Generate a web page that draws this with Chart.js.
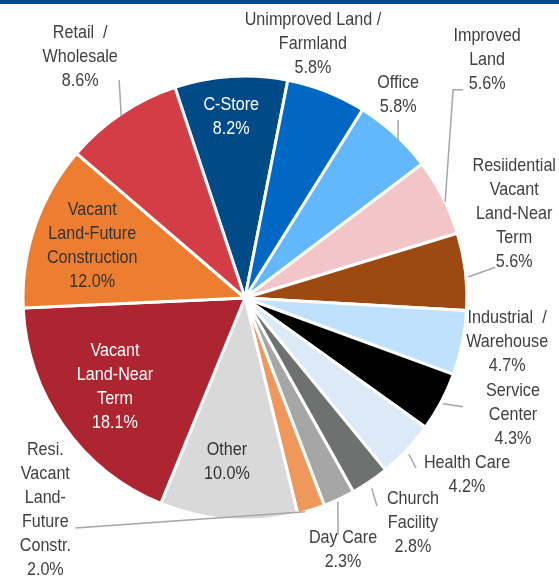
<!DOCTYPE html>
<html>
<head>
<meta charset="utf-8">
<script src="https://cdn.jsdelivr.net/npm/chart.js@4/dist/chart.umd.min.js"></script>
<style>
  html, body { margin: 0; padding: 0; background: #fff; }
  #wrap { position: relative; width: 559px; height: 577px; }
</style>
</head>
<body>
<div id="wrap"><canvas id="myChart"></canvas></div>
<script>
// data, clockwise from the C-Store slice
const categories = [
  'C-Store', 'Unimproved Land / Farmland', 'Office', 'Improved Land',
  'Resiidential Vacant Land-Near Term', 'Industrial / Warehouse', 'Service Center',
  'Health Care', 'Church Facility', 'Day Care', 'Resi. Vacant Land-Future Constr.',
  'Other', 'Vacant Land-Near Term', 'Vacant Land-Future Construction', 'Retail / Wholesale'
];
const shares = [8.2, 5.8, 5.8, 5.6, 5.6, 4.7, 4.3, 4.2, 2.8, 2.3, 2.0, 10.0, 18.1, 12.0, 8.6];
const labelLines = [
  ['C-Store'], ['Unimproved Land /', 'Farmland'], ['Office'], ['Improved', 'Land'],
  ['Resiidential', 'Vacant', 'Land-Near', 'Term'], ['Industrial  /', 'Warehouse'], ['Service', 'Center'],
  ['Health Care'], ['Church', 'Facility'], ['Day Care'], ['Resi.', 'Vacant', 'Land-', 'Future', 'Constr.'],
  ['Other'], ['Vacant', 'Land-Near', 'Term'], ['Vacant', 'Land-Future', 'Construction'], ['Retail  /', 'Wholesale']
];
const sliceColors = [
  '#004a87', '#0068c4', '#63b8fb', '#f2c5c9', '#9c4a11', '#bfe1fc', '#000000',
  '#dce9f6', '#6f7170', '#a6a6a6', '#f0985b', '#d9d9d9', '#ac2530', '#ec7d31', '#d33d46'
];
const labelColors = [
  '#ffffff', '#404040', '#404040', '#404040', '#404040', '#404040', '#404040',
  '#404040', '#404040', '#404040', '#404040', '#333333', '#ffffff', '#333333', '#404040'
];

// label placement: [radius factor, angle shift in degrees] from slice middle
const labelPlace = [
  [0.82, -0.7], [1.185, -6.6], [1.145, -5.4], [1.53, -17.5], [1.27, -10.4],
  [1.197, -2.2], [1.317, -4.3], [1.279, -4.6], [1.265, -2.5], [1.218, 3.8],
  [1.312, 60.6], [0.743, 2.0], [0.71, 0.7], [0.728, 0], [1.315, -0.5]
];
// leader lines: points relative to the label centre, then the slice edge
const leaders = [
  null, null,
  { pts: [[0, 25]], dAng: 1.7, rf: 0.99 },
  { pts: [[-24, 30], [-34, 30]], dAng: 1.4, rf: 1.0 },
  { pts: [[-19, 53]], dAng: 1.5, rf: 1.01 },
  null,
  { pts: [[-50, -8]], dAng: 0.3, rf: 1.01 },
  { pts: [[-51, -7]], dAng: 0.5, rf: 1.02 },
  { pts: [[-36, -17]], dAng: 0.6, rf: 1.03 },
  { pts: [[-5, -15]], dAng: 0.6, rf: 1.01 },
  { pts: [[30, 18]], dAng: 1.6, rf: 1.0 },
  null, null, null,
  { pts: [[39, 23]], dAng: -0.4, rf: 0.99 }
];

const FONT = '19px "Liberation Sans", Arial, sans-serif';
const SQUEEZE = 0.85; // narrow face look
const LINE_H = 24;

const topBar = {
  id: 'topBar',
  beforeDraw(chart) {
    const ctx = chart.ctx;
    ctx.save();
    ctx.fillStyle = '#004a87';
    ctx.fillRect(0, 0, chart.width, 4);
    ctx.restore();
  }
};

const sliceLabels = {
  id: 'sliceLabels',
  afterDatasetsDraw(chart) {
    const ctx = chart.ctx;
    const meta = chart.getDatasetMeta(0);
    ctx.save();
    ctx.font = FONT;
    ctx.textAlign = 'center';
    ctx.textBaseline = 'middle';
    meta.data.forEach((arc, i) => {
      const p = arc.getProps(['x', 'y', 'startAngle', 'endAngle', 'outerRadius'], true);
      const mid = (p.startAngle + p.endAngle) / 2;
      const a = mid + labelPlace[i][1] * Math.PI / 180;
      const r = p.outerRadius * labelPlace[i][0];
      const lx = p.x + Math.cos(a) * r;
      const ly = p.y + Math.sin(a) * r;

      const lines = labelLines[i].concat([shares[i].toFixed(1) + '%']);
      const top = ly - (lines.length - 1) * LINE_H / 2;
      ctx.fillStyle = labelColors[i];
      lines.forEach((t, k) => {
        ctx.save();
        ctx.translate(lx, top + k * LINE_H);
        ctx.scale(SQUEEZE, 1);
        ctx.fillText(t, 0, 0);
        ctx.restore();
      });

      const ld = leaders[i];
      if (ld) {
        const ea = mid + ld.dAng * Math.PI / 180;
        ctx.beginPath();
        ctx.strokeStyle = '#a6a6a6';
        ctx.lineWidth = 1.5;
        ld.pts.forEach((q, k) => {
          if (k === 0) ctx.moveTo(lx + q[0], ly + q[1]);
          else ctx.lineTo(lx + q[0], ly + q[1]);
        });
        ctx.lineTo(p.x + Math.cos(ea) * p.outerRadius * ld.rf, p.y + Math.sin(ea) * p.outerRadius * ld.rf);
        ctx.stroke();
      }
    });
    ctx.restore();
  }
};

const data = {
  labels: categories,
  datasets: [{
    data: shares,
    backgroundColor: sliceColors,
    borderColor: '#ffffff',
    borderWidth: 3,
    hoverOffset: 0
  }]
};

const config = {
  type: 'pie',
  data,
  options: {
    responsive: true,
    maintainAspectRatio: false,
    animation: false,
    rotation: -18.4,
    layout: { padding: { left: 21.5, right: 90.5, top: 74.5, bottom: 55.5 } },
    plugins: {
      legend: { display: false },
      tooltip: { enabled: false }
    }
  },
  plugins: [topBar, sliceLabels]
};

const myChart = new Chart(document.getElementById('myChart'), config);
</script>
</body>
</html>
